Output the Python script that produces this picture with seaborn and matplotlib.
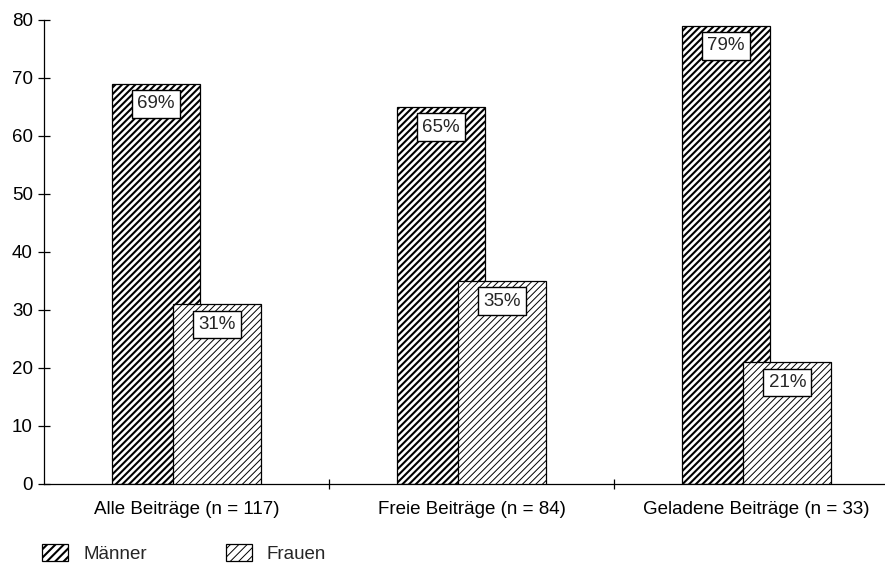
import matplotlib
matplotlib.use("Agg")
import matplotlib.pyplot as plt
import matplotlib.patches as mpatches
from matplotlib.legend_handler import HandlerPatch
from matplotlib.ticker import FixedLocator
import seaborn as sns
import pandas as pd

# Anteile nach Geschlecht (in Prozent)
categories = ["Alle Beiträge (n = 117)", "Freie Beiträge (n = 84)", "Geladene Beiträge (n = 33)"]
groups = ["Männer", "Frauen"]
maenner = [69, 65, 79]
frauen = [31, 35, 21]
y_ticks = [0, 10, 20, 30, 40, 50, 60, 70, 80]

df = pd.DataFrame({
    "Kategorie": categories * 2,
    "Geschlecht": [groups[0]] * 3 + [groups[1]] * 3,
    "Anteil": maenner + frauen,
})

sns.set_theme(style="white")
plt.rcParams["font.family"] = ["Liberation Sans", "DejaVu Sans"]
FS = 13.5

fig = plt.figure(figsize=(8.85, 5.66), dpi=100)
ax = fig.add_axes([44 / 885, 82 / 566, 855 / 885, 464 / 566])

sns.barplot(data=df, x="Kategorie", y="Anteil", hue="Geschlecht",
            hue_order=groups, order=categories, ax=ax,
            palette=["white", "white"], edgecolor="black", linewidth=0.9,
            legend=False, errorbar=None)

# overlapping bars with hatch fills
bar_w = 0.31
offsets = {"Männer": -0.108, "Frauen": 0.108}
styles = {"Männer": dict(hatch="/////", hlw=1.5, z=2),
          "Frauen": dict(hatch="/////", hlw=0.7, z=3)}
for container, grp in zip(ax.containers, groups):
    st = styles[grp]
    for i, patch in enumerate(container.patches):
        patch.set_width(bar_w)
        patch.set_x(i + offsets[grp] - bar_w / 2)
        patch.set_hatch(st["hatch"])
        patch.set_zorder(st["z"])
        if hasattr(patch, "set_hatch_linewidth"):
            patch.set_hatch_linewidth(st["hlw"])
    # value labels in white boxes near the bar tops
    vals = maenner if grp == "Männer" else frauen
    for i, (patch, v) in enumerate(zip(container.patches, vals)):
        ax.annotate(f"{v}%", xy=(i + offsets[grp], v), xytext=(0, -14.5),
                    textcoords="offset points", ha="center", va="center",
                    fontsize=FS, zorder=5,
                    bbox=dict(boxstyle="square,pad=0.28", facecolor="white",
                              edgecolor="black", linewidth=1.0))

ax.set_xlim(-0.5, 2.5)
ax.set_ylim(0, 80)
ax.set_yticks(y_ticks)
ax.set_xlabel("")
ax.set_ylabel("")
ax.tick_params(axis="y", direction="inout", length=8, width=0.9,
               labelsize=FS, pad=4, left=True, color="black", labelcolor="black")
ax.tick_params(axis="x", which="major", length=0, labelsize=FS, pad=12,
               labelcolor="black")
ax.xaxis.set_minor_locator(FixedLocator([0.5, 1.5]))
ax.tick_params(axis="x", which="minor", direction="inout", length=7,
               width=0.9, bottom=True, color="black")

for side in ["top", "right"]:
    ax.spines[side].set_visible(False)
for side in ["left", "bottom"]:
    ax.spines[side].set_color("black")
    ax.spines[side].set_linewidth(0.9)
ax.grid(False)


class HatchHandler(HandlerPatch):
    """Legend key that keeps the hatch line width of its source patch."""

    def create_artists(self, legend, orig_handle, xdescent, ydescent,
                       width, height, fontsize, trans):
        r = mpatches.Rectangle((-xdescent, -ydescent), width, height,
                               facecolor="white", edgecolor="black",
                               hatch=orig_handle.get_hatch(), linewidth=0.9,
                               transform=trans)
        if hasattr(r, "set_hatch_linewidth"):
            r.set_hatch_linewidth(orig_handle._lw_h)
        return [r]


handles = []
for grp in groups:
    st = styles[grp]
    h = mpatches.Patch(facecolor="white", edgecolor="black", hatch="////",
                       linewidth=0.9, label=grp)
    h._lw_h = st["hlw"]
    handles.append(h)

fig.legend(handles=handles, loc="lower left", bbox_to_anchor=(42 / 885, 3 / 566),
           ncol=2, frameon=False, fontsize=FS, borderpad=0, borderaxespad=0,
           handlelength=1.4, handleheight=0.95, handletextpad=0.8,
           columnspacing=4.2, handler_map={mpatches.Patch: HatchHandler()})

fig.savefig("out.png", dpi=100)
